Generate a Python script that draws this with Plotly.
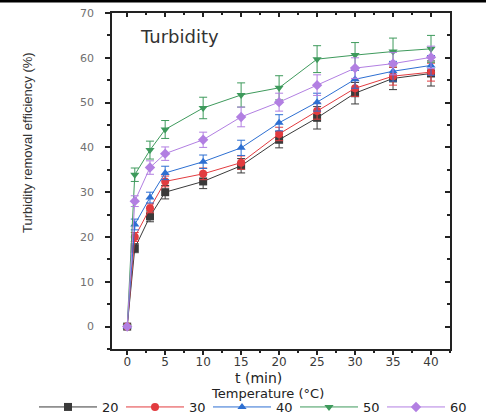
import plotly.graph_objects as go

# Sampling times (min)
t_min = [0, 1, 3, 5, 10, 15, 20, 25, 30, 35, 40]
x_ticks = [0, 5, 10, 15, 20, 25, 30, 35, 40]
y_ticks = [0, 10, 20, 30, 40, 50, 60, 70]

# Turbidity removal efficiency (%) at each temperature
temps = ["20", "30", "40", "50", "60"]
eff_20 = [0, 17.5, 24.6, 30.0, 32.4, 35.9, 41.7, 46.6, 52.1, 55.4, 56.5]
eff_30 = [0, 20.0, 26.4, 32.4, 34.1, 36.6, 43.0, 48.1, 53.2, 55.9, 56.8]
eff_40 = [0, 22.8, 28.8, 34.3, 36.8, 39.9, 45.5, 50.1, 55.2, 57.0, 58.3]
eff_50 = [0, 33.9, 39.4, 44.0, 48.8, 51.7, 53.3, 59.7, 60.6, 61.4, 62.0]
eff_60 = [0, 28.0, 35.5, 38.6, 41.7, 46.8, 50.1, 53.9, 57.7, 58.7, 60.1]

# Standard deviations
err_20 = [0, 1.0, 1.2, 1.5, 1.6, 1.6, 1.8, 2.5, 2.4, 2.5, 2.8]
err_30 = [0, 1.0, 1.0, 1.2, 1.3, 1.5, 1.5, 1.8, 1.8, 2.0, 2.0]
err_40 = [0, 1.2, 1.2, 1.5, 1.5, 1.7, 1.8, 2.0, 2.0, 2.2, 2.2]
err_50 = [0, 1.5, 2.0, 2.0, 2.4, 2.7, 2.7, 3.0, 2.8, 3.0, 3.0]
err_60 = [0, 1.2, 1.5, 1.5, 1.7, 2.2, 2.0, 2.3, 2.3, 2.5, 2.5]

series = [
    (temps[0], eff_20, err_20, "#3a3a3a", "square"),
    (temps[1], eff_30, err_30, "#e23b3f", "circle"),
    (temps[2], eff_40, err_40, "#2d6fd2", "triangle-up"),
    (temps[3], eff_50, err_50, "#3e9a5c", "triangle-down"),
    (temps[4], eff_60, err_60, "#b27fe2", "diamond"),
]

X_RANGE = [-2, 42.5]
Y_RANGE = [-5, 70]
INK = "#222222"
W, H = 486, 414
L, R, T, B = 112, 36, 13, 65
PW, PH = W - L - R, H - T - B


def px_x(x):
    """Page pixel column -> paper x."""
    return (x - L) / PW


def px_y(y):
    """Page pixel row -> paper y."""
    return (H - B - y) / PH


fig = go.Figure()
for name, y, e, color, sym in series:
    fig.add_trace(go.Scatter(
        x=t_min, y=y, name=name, mode="lines+markers",
        line=dict(color=color, width=1),
        marker=dict(symbol=sym, size=8, color=color),
        error_y=dict(type="data", array=e, visible=True,
                     color=color, thickness=1, width=4),
    ))

# Invisible trace carrying the mirrored top/right axes
fig.add_trace(go.Scatter(x=[None], y=[None], xaxis="x2", yaxis="y2",
                         showlegend=False, hoverinfo="skip"))

common_x = dict(range=X_RANGE, tickvals=x_ticks, tickwidth=1.5, tickcolor=INK, ticklen=4,
                showline=True, linecolor=INK, linewidth=1.5, showgrid=False, zeroline=False)
common_y = dict(range=Y_RANGE, tickvals=y_ticks, tickwidth=1.5, tickcolor=INK, ticklen=5,
                showline=True, linecolor=INK, linewidth=1.5, showgrid=False, zeroline=False)

fig.update_layout(
    width=W, height=H,
    margin=dict(l=L, r=R, t=T, b=B, autoexpand=False),
    paper_bgcolor="white", plot_bgcolor="white",
    font=dict(family="DejaVu Sans", color=INK),
    xaxis=dict(
        **common_x, ticks="outside", ticklabelstandoff=-3,
        minor=dict(dtick=2.5, tick0=2.5, ticks="outside", ticklen=2, tickcolor=INK),
        tickfont=dict(family="DejaVu Sans", size=12, color="#3a3a3a"),
    ),
    yaxis=dict(
        **common_y, ticks="outside", ticklabelstandoff=9,
        minor=dict(dtick=5, tick0=5, ticks="outside", ticklen=3, tickcolor=INK),
        tickfont=dict(family="DejaVu Sans", size=11, color="#707070"),
    ),
    xaxis2=dict(
        **common_x, overlaying="x", side="top", showticklabels=False, ticks="inside",
        minor=dict(dtick=2.5, tick0=2.5, ticks="inside", ticklen=2, tickcolor=INK),
    ),
    yaxis2=dict(
        **common_y, overlaying="y", side="right", showticklabels=False, ticks="inside",
        minor=dict(dtick=5, tick0=5, ticks="inside", ticklen=3, tickcolor=INK),
    ),
    legend=dict(
        orientation="h",
        x=px_x(34), xanchor="left", y=px_y(392), yanchor="top",
        font=dict(family="DejaVu Sans", size=13, color=INK),
        itemwidth=58, entrywidth=14, entrywidthmode="pixels",
        tracegroupgap=0, bgcolor="rgba(0,0,0,0)",
    ),
    showlegend=True,
)

# Axis titles and legend heading
fig.add_annotation(text="t (min)", xref="paper", yref="paper",
                   x=px_x(258), y=px_y(378),
                   xanchor="center", yanchor="middle", showarrow=False,
                   font=dict(family="DejaVu Sans", size=14, color=INK))
fig.add_annotation(text="Temperature (°C)", xref="paper", yref="paper",
                   x=px_x(267), y=px_y(393),
                   xanchor="center", yanchor="middle", showarrow=False,
                   font=dict(family="DejaVu Sans", size=13, color=INK))
fig.add_annotation(text="Turbidity removal efficiency (%)", xref="paper", yref="paper",
                   x=px_x(27), y=px_y(143), textangle=-90,
                   xanchor="center", yanchor="middle", showarrow=False,
                   font=dict(family="Liberation Sans", size=13, color="#333333"))

# Panel label
fig.add_annotation(text="Turbidity", xref="paper", yref="paper", x=px_x(138), y=px_y(37),
                   xanchor="left", yanchor="middle", showarrow=False,
                   font=dict(family="DejaVu Sans", size=18, color="#333333"))

# Thin rule along the top edge of the page
fig.add_shape(type="rect", xref="paper", yref="paper",
              x0=px_x(0), x1=px_x(W), y0=px_y(0), y1=px_y(2.5),
              fillcolor="black", line=dict(width=0), layer="above")

fig.write_html("out.html", config=dict(displayModeBar=False))
